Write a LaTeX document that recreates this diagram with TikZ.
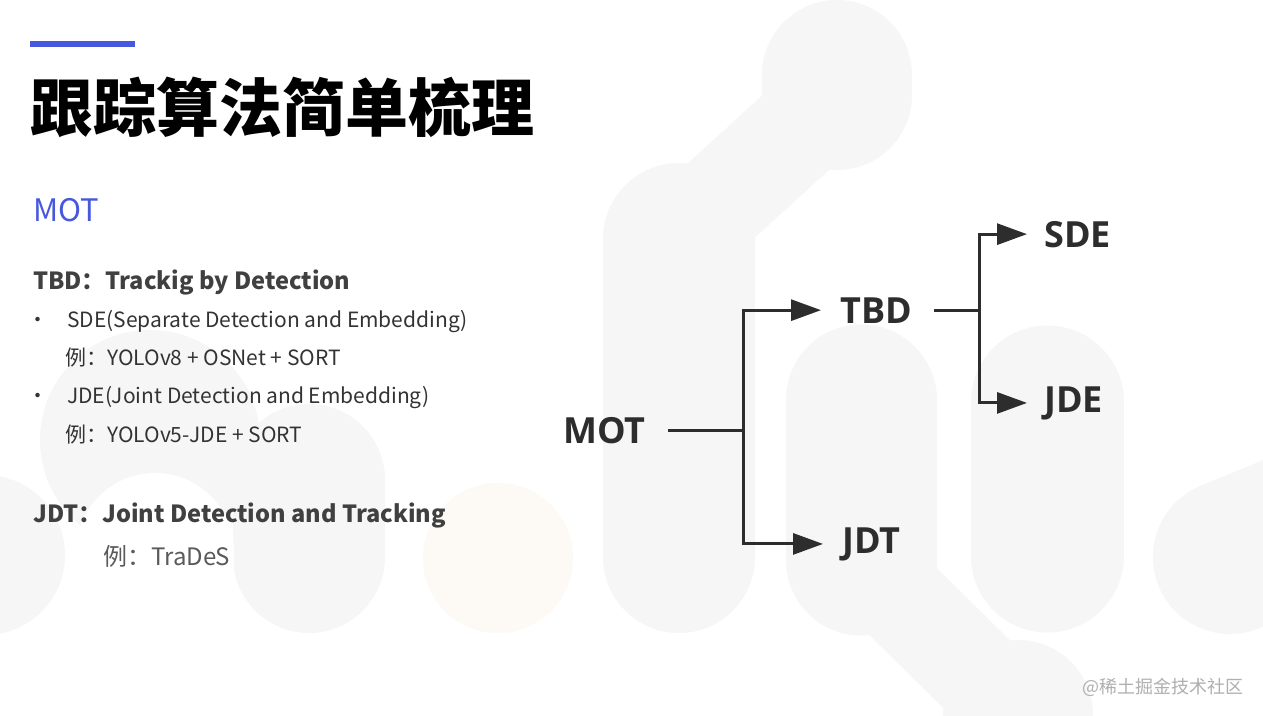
\documentclass[tikz,border=0pt]{standalone}
\usepackage{fontspec}
\setmainfont{Noto Sans CJK SC}
\newfontfamily\cjk{Noto Sans CJK SC}
\newfontfamily\opensans{Open Sans}
\usetikzlibrary{arrows.meta}
\definecolor{bgshape}{RGB}{246,246,246}
\definecolor{peach}{RGB}{253,249,244}
\definecolor{accent}{RGB}{72,88,222}
\definecolor{head}{RGB}{64,64,64}
\definecolor{body}{RGB}{51,51,51}
\definecolor{lightt}{RGB}{90,90,90}
\definecolor{tree}{RGB}{45,45,45}
\definecolor{wm}{RGB}{175,175,175}
\begin{document}
\begin{tikzpicture}[x=1pt,y=-1pt,
  blob/.style={draw=bgshape,line cap=round,line join=round},
  cut/.style={draw=white,line cap=round},
  txt/.style={inner sep=0pt,anchor=base west},
  headtxt/.style={txt,font=\cjk\bfseries\fontsize{23.6}{24}\selectfont,text=head},
  itemtxt/.style={txt,font=\cjk\fontsize{21}{21}\selectfont,text=body},
  treelbl/.style={inner sep=0pt,anchor=base west,font=\opensans\bfseries\fontsize{36}{36}\selectfont,text=tree},
  conn/.style={draw=tree,line width=3pt},
  arr/.style={conn,-{Triangle[length=30pt,width=21pt]}},
]
\useasboundingbox (0,0) rectangle (1263,715);
\fill[white] (0,0) rectangle (1263,715);
\begin{scope}
\clip (0,0) rectangle (1263,715);
% right background group
\draw[blob,line width=150pt] (837,75) -- (837,95);
\draw[blob,line width=100pt] (837,95) -- (679,239);
\draw[blob,line width=152pt] (679,239) -- (679,557);
\draw[blob,line width=151pt] (861,400) -- (861,560);
\draw[blob,line width=95pt] (861,560) -- (1018,715);
\draw[blob,line width=150pt] (1018,715) -- (1018,760);
\draw[blob,line width=153pt] (1047,402) -- (1047,556);
\draw[blob,line width=154pt] (1230,557) -- (1320,520);
% left background group
\fill[bgshape] (150,440) circle[radius=110pt];
\fill[bgshape] (-15,555) circle[radius=80pt];
\draw[blob,line width=152pt] (309,480) -- (309,557);
\draw[cut,line width=158pt] (155,552) -- (155,700);
\fill[peach] (498,558) circle[radius=75pt];
\end{scope}

% title
\fill[accent] (30,41) rectangle (135,47);
\node[txt,font=\cjk\bfseries\fontsize{63}{63}\selectfont,text=black] (title) at (30,131) {跟踪算法简单梳理};

% left text
\node[txt,font=\cjk\fontsize{31}{31}\selectfont,text=accent] (mothead) at (33,221) {MOT};
\node[headtxt] (tbdhead) at (33,289) {TBD：Trackig by Detection};
\node[itemtxt] (b1) at (27,327) {•};
\node[itemtxt] (sdeitem) at (67,327) {SDE(Separate Detection and Embedding)};
\node[itemtxt] (sdeex) at (65,365) {例：YOLOv8 + OSNet + SORT};
\node[itemtxt] (b2) at (27,403) {•};
\node[itemtxt] (jdeitem) at (67,403) {JDE(Joint Detection and Embedding)};
\node[itemtxt] (jdeex) at (65,442) {例：YOLOv5-JDE + SORT};
\node[headtxt] (jdthead) at (33,522) {JDT：Joint Detection and Tracking};
\node[txt,font=\cjk\fontsize{24}{24}\selectfont,text=lightt] (jdtex) at (103,565) {例：TraDeS};

% tree
\node[treelbl] (mot) at (563,443) {MOT};
\node[treelbl] (tbd) at (840,323) {TBD};
\node[treelbl] (jdt) at (842,553) {JDT};
\node[treelbl] (sde) at (1044,247) {SDE};
\node[treelbl] (jde) at (1044,412) {JDE};
\coordinate (j1) at ([xshift=98pt]mot.east);
\coordinate (j2) at ([xshift=67pt]tbd.east);
\draw[conn] ([xshift=22pt]mot.east) -- (j1);
\draw[arr] (j1) |- ([xshift=-19pt]tbd.west);
\draw[arr] (j1) |- ([xshift=-19pt]jdt.west);
\draw[conn] ([xshift=22pt]tbd.east) -- (j2);
\draw[arr] (j2) |- ([xshift=-17pt]sde.west);
\draw[arr] (j2) |- ([xshift=-17pt]jde.west);

% watermark
\node[txt,font=\cjk\fontsize{18}{18}\selectfont,text=wm] (wmark) at (1082,693) {@稀土掘金技术社区};
\end{tikzpicture}
\end{document}
